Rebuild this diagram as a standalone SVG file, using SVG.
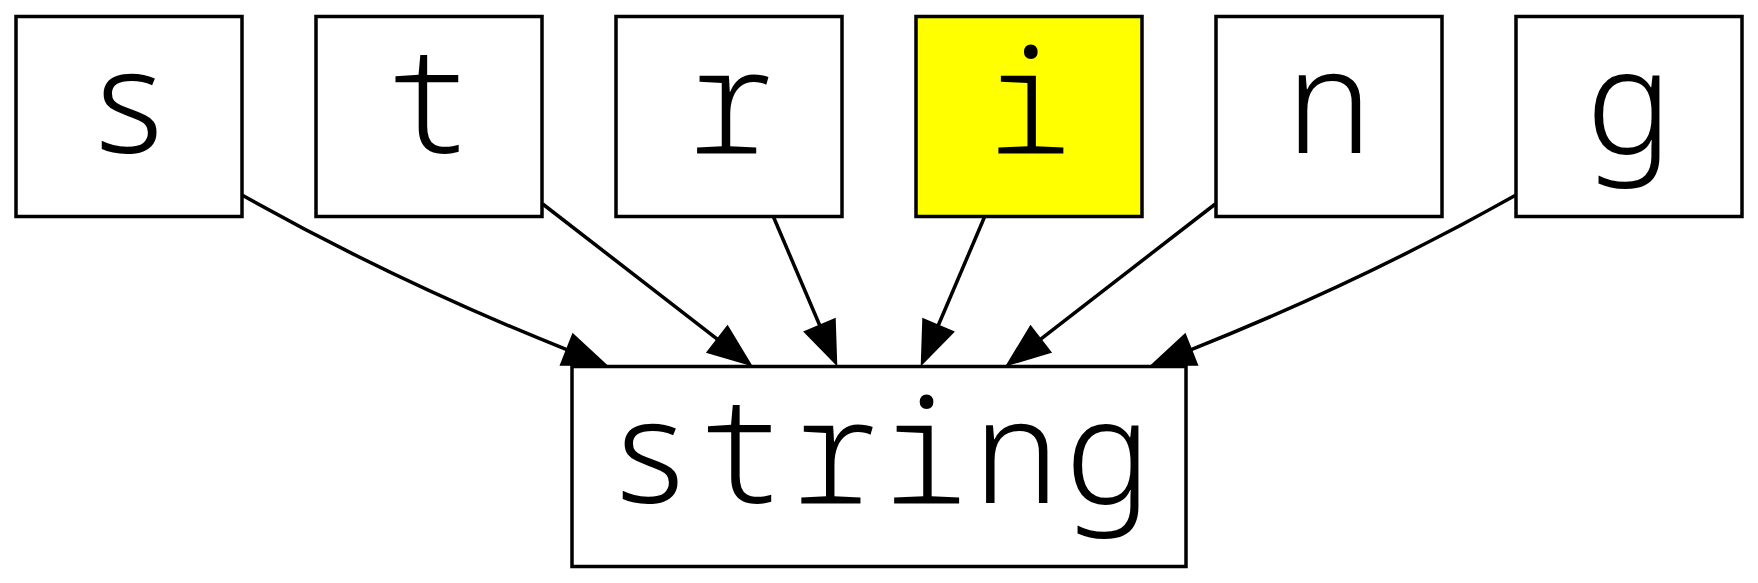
<svg xmlns="http://www.w3.org/2000/svg" width="1758" height="583" viewBox="0 0 1758 583">
<style>
.node rect{fill:#ffffff;stroke:#000000;stroke-width:3.5}
.node.hl rect{fill:#ffff00}
.node text{font-family:"Noto Sans Mono","Droid Sans Mono","DejaVu Sans Mono",monospace;font-size:146px;font-weight:350;fill:#000000;text-anchor:middle}
.node text.wide{letter-spacing:4px}
.edge{fill:none;stroke:#000000;stroke-width:3.5;marker-end:url(#arrow)}
</style>
<defs>
<marker id="arrow" markerUnits="userSpaceOnUse" markerWidth="50" markerHeight="40" refX="0" refY="17" orient="auto" overflow="visible">
<path d="M0,1.5 L40,17 L0,32.5 Z" fill="#000000" stroke="#000000" stroke-width="3"/>
</marker>
</defs>
<rect width="1758" height="583" fill="#ffffff"/>
<g id="connectors">
<path class="edge" d="M242,195 C352,257 465.1,309.2 567.4,349.8"/>
<path class="edge" d="M542.7,204 L717.9,339.6"/>
<path class="edge" d="M773.3,216.5 L820,326"/>
<path class="edge" d="M984.7,216.5 L938,326"/>
<path class="edge" d="M1215.3,204 L1040.1,339.6"/>
<path class="edge" d="M1516,195 C1406,257 1292.9,309.2 1190.6,349.8"/>
</g>
<g id="node-s" class="node"><rect x="16" y="16.5" width="226" height="200"/><text x="129" y="152.5">s</text></g>
<g id="node-t" class="node"><rect x="316" y="16.5" width="226" height="200"/><text x="429" y="152.5">t</text></g>
<g id="node-r" class="node"><rect x="616" y="16.5" width="226" height="200"/><text x="729" y="152.5">r</text></g>
<g id="node-i" class="node hl"><rect x="916" y="16.5" width="226" height="200"/><text x="1029" y="152.5">i</text></g>
<g id="node-n" class="node"><rect x="1216" y="16.5" width="226" height="200"/><text x="1329" y="152.5">n</text></g>
<g id="node-g" class="node"><rect x="1516" y="16.5" width="226" height="200"/><text x="1629" y="152.5">g</text></g>
<g id="node-string" class="node"><rect x="572" y="366.5" width="614" height="200"/><text class="wide" x="881" y="502.5">string</text></g>
</svg>
